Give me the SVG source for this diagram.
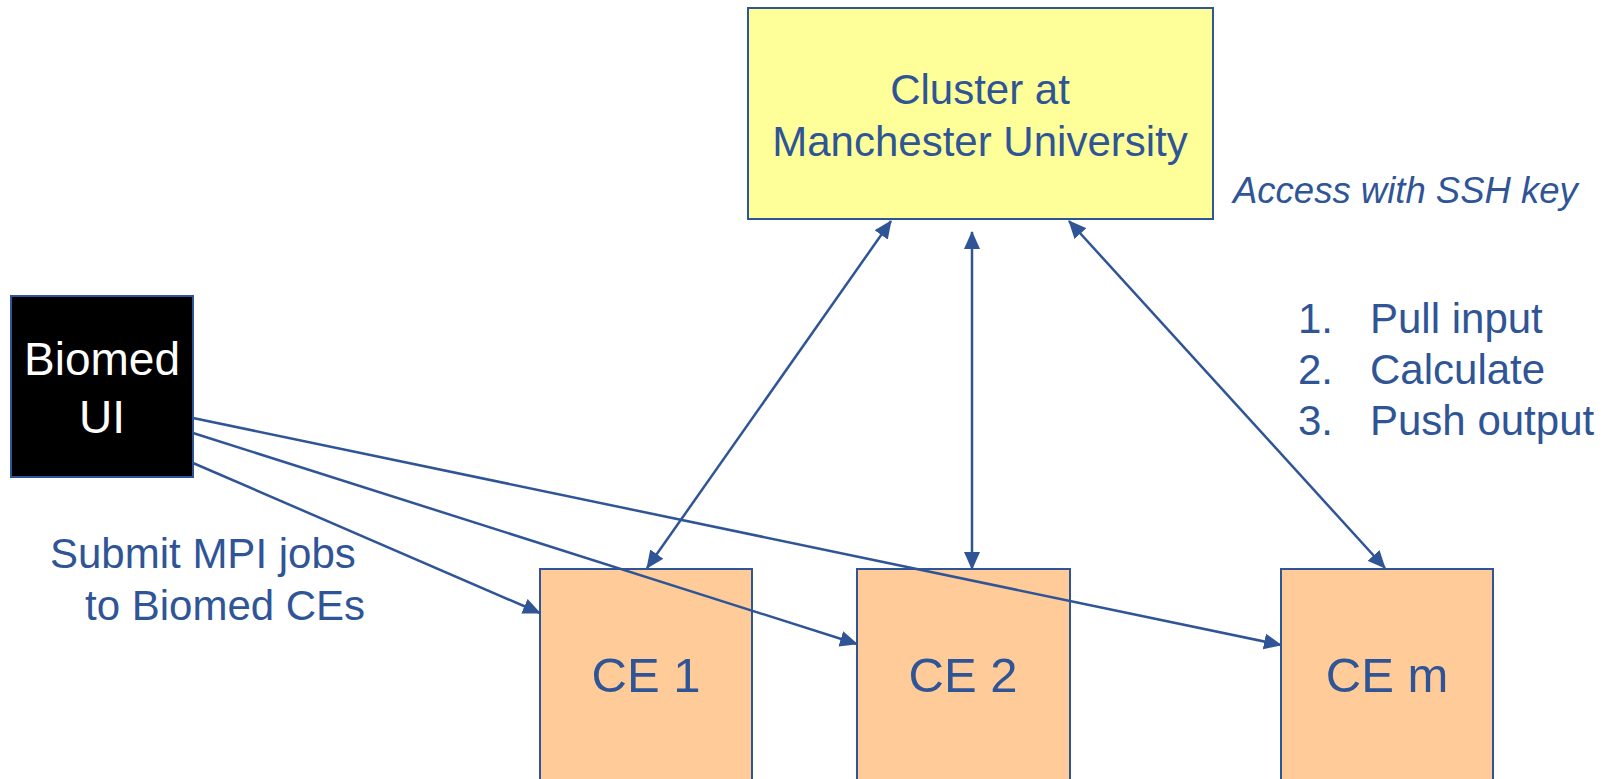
<svg xmlns="http://www.w3.org/2000/svg" width="1608" height="779" viewBox="0 0 1608 779">
<style>
.t{font-family:"Liberation Sans",Arial,Helvetica,sans-serif;fill:#2F5597}
.box{stroke:#2F5597;stroke-width:2}
.c{fill:none;stroke:#2F5597;stroke-width:2.5}
</style>
<defs>
<marker id="ah" markerUnits="userSpaceOnUse" markerWidth="18" markerHeight="16" refX="17" refY="8" orient="auto-start-reverse" viewBox="0 0 18 16">
<path d="M0,0 L18,8 L0,16 z" fill="#2F5597"/>
</marker>
</defs>
<rect width="1608" height="779" fill="#fff"/>
<g id="cluster">
<rect class="box" x="748" y="8" width="465" height="211" fill="#FFFF99"/>
<text class="t" x="980" y="104" font-size="42" text-anchor="middle">Cluster at</text>
<text class="t" x="980" y="156" font-size="42" text-anchor="middle">Manchester University</text>
</g>
<g id="biomed">
<rect class="box" x="11" y="296" width="182" height="181" fill="#000"/>
<text x="102" y="375" font-size="46" text-anchor="middle" fill="#fff" font-family="Liberation Sans,Arial,sans-serif">Biomed</text>
<text x="102" y="433" font-size="46" text-anchor="middle" fill="#fff" font-family="Liberation Sans,Arial,sans-serif">UI</text>
</g>
<g id="ce1">
<rect class="box" x="540" y="569" width="212" height="215" fill="#FFCC99"/>
<text class="t" x="646" y="692" font-size="49" text-anchor="middle">CE 1</text>
</g>
<g id="ce2">
<rect class="box" x="857" y="569" width="213" height="215" fill="#FFCC99"/>
<text class="t" x="963" y="692" font-size="49" text-anchor="middle">CE 2</text>
</g>
<g id="cem">
<rect class="box" x="1281" y="569" width="212" height="215" fill="#FFCC99"/>
<text class="t" x="1387" y="692" font-size="49" text-anchor="middle">CE m</text>
</g>
<g id="labels">
<text class="t" x="1233" y="203" font-size="36.5" font-style="italic">Access with SSH key</text>
<text class="t" font-size="42"><tspan x="1298" y="333">1.</tspan><tspan x="1370" y="333">Pull input</tspan></text>
<text class="t" font-size="42"><tspan x="1298" y="384">2.</tspan><tspan x="1370" y="384">Calculate</tspan></text>
<text class="t" font-size="42"><tspan x="1298" y="435">3.</tspan><tspan x="1370" y="435">Push output</tspan></text>
<text class="t" x="50" y="568" font-size="42">Submit MPI jobs</text>
<text class="t" x="85" y="620" font-size="42">to Biomed CEs</text>
</g>
<g id="connectors">
<line class="c" x1="193" y1="463" x2="540" y2="613" marker-end="url(#ah)"/>
<line class="c" x1="193" y1="433" x2="857" y2="644" marker-end="url(#ah)"/>
<line class="c" x1="193" y1="418" x2="1281" y2="645" marker-end="url(#ah)"/>
<line class="c" x1="891" y1="221" x2="647" y2="568" marker-start="url(#ah)" marker-end="url(#ah)"/>
<line class="c" x1="972" y1="232" x2="972" y2="569" marker-start="url(#ah)" marker-end="url(#ah)"/>
<line class="c" x1="1069" y1="221" x2="1385" y2="568" marker-start="url(#ah)" marker-end="url(#ah)"/>
</g>
</svg>
